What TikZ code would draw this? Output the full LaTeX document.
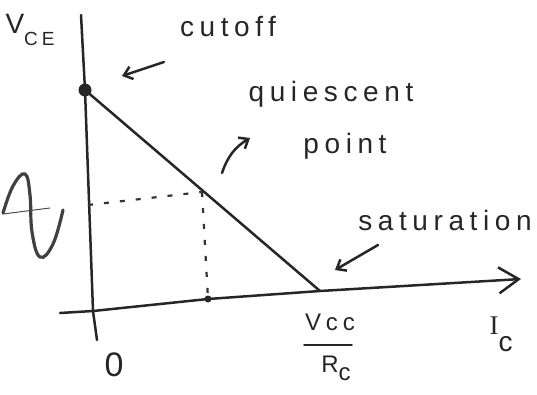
\documentclass[tikz,border=0pt]{standalone}
\usepackage{fontspec}
\setmainfont{Liberation Sans}
\newfontfamily\hand[LetterSpace=20]{Liberation Sans}
\newfontfamily\handserif{Liberation Serif}
\usetikzlibrary{arrows.meta}
\begin{document}
\begin{tikzpicture}[x=1pt,y=-1pt,
  ink/.style={draw=black!85,line width=2.5pt,line cap=round,line join=round},
  thin ink/.style={draw=black!70,line width=1pt,line cap=round},
  dashink/.style={draw=black!80,line width=2.2pt,dash pattern=on 5pt off 11pt},
  barb/.style={-{Straight Barb[length=8pt,width=13pt,line width=2.5pt]}},
  lbl/.style={inner sep=0pt,text=black!85,font=\hand\fontsize{28}{28}\selectfont},
  mid lbl/.style={inner sep=0pt,text=black!85,font=\hand\fontsize{24}{24}\selectfont}]
\useasboundingbox (0,0) rectangle (537,394);
% axes coordinates
\coordinate (axtop) at (81,15);
\coordinate (axbot) at (97,340);
\coordinate (cross) at (93,311);
\coordinate (hleft) at (60,313);
\coordinate (htip) at (521,279);
\coordinate (cut) at (85,90);
\coordinate (sat) at (320,291);
\coordinate (qpt) at (202,192);
\coordinate (qfoot) at (208,299);
\coordinate (vleft) at (88,205);
% vertical axis
\draw[ink] (axtop) -- (cut) -- (cross) -- (axbot);
% horizontal axis with arrow
\draw[ink,-{Straight Barb[length=20pt,width=26pt,line width=2.5pt]}] (hleft) -- (cross) -- (qfoot) -- (sat) -- (htip);
% load line
\draw[ink] (cut) -- (sat);
% dashed projections
\draw[dashink] (vleft) -- (qpt);
\draw[dashink] (qpt) -- (qfoot);
% points
\node[circle,fill=black!85,minimum size=13pt,inner sep=0pt] (cutdot) at (cut) {};
\node[circle,fill=black!85,minimum size=7pt,inner sep=0pt] (qdot) at (qfoot) {};
% sine wave
\draw[draw=black!75,line width=3.2pt,line cap=round] plot[smooth,tension=0.7] coordinates {(3,213) (13,186) (25,174) (30,195) (32,232) (40,257) (53,244) (63,210)};
\coordinate (sa) at (3,214);
\coordinate (sb) at (50,208);
\draw[thin ink] (sa) -- (sb);
% labels
\node[lbl] (vce) at (30,30) {V\raisebox{-12pt}{\fontsize{19}{19}\selectfont CE}};
\node[lbl] (cutoff) at (228,27) {cutoff};
\node[lbl] (quies) at (331,94) {quiescent};
\node[lbl] (point) at (345,146) {point};
\node[lbl] (satl) at (445,220) {saturation};
\node[mid lbl] (vcc) at (330,322) {Vcc};
\node[mid lbl] (rc) at (336,368) {R\raisebox{-8pt}{c}};
\coordinate (fa) at (304,345);
\coordinate (fb) at (352,345);
\draw[ink,line width=1.8pt] (fa) -- (fb);
\node[inner sep=0pt,text=black!85,font=\fontsize{28}{28}\selectfont] (ic) at (501,334) {{\handserif\fontsize{27}{27}\selectfont I}\raisebox{-17pt}{c}};
\node[inner sep=0pt,text=black!85,font=\fontsize{34}{34}\selectfont] (zero) at (114,365) {0};
% annotation arrows
\coordinate (ca) at (164,62);
\coordinate (cb) at (122,76);
\draw[ink,barb] (ca) -- (cb);
\coordinate (qa) at (222,173);
\coordinate (qb) at (250,138);
\draw[ink,barb] (qa) to[bend left=20] (qb);
\coordinate (sa2) at (378,245);
\coordinate (sb2) at (335,270);
\draw[ink,barb] (sa2) -- (sb2);
\end{tikzpicture}
\end{document}
